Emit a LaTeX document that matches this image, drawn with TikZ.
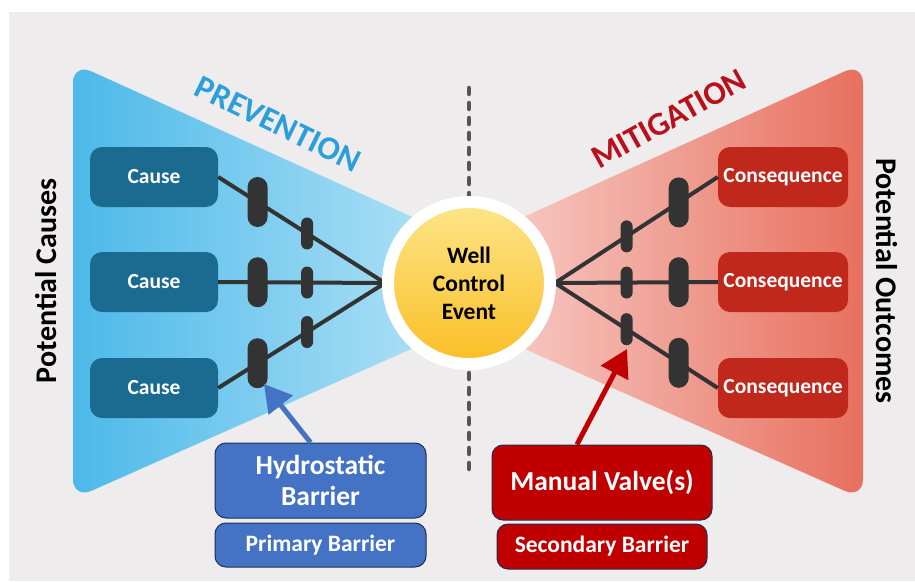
\documentclass[tikz,border=0pt]{standalone}
\usepackage{fontspec}
\setmainfont{Carlito}
\usetikzlibrary{arrows.meta,positioning}

\definecolor{bggray}{HTML}{EEECEC}
\definecolor{causeblue}{HTML}{1B6A90}
\definecolor{conred}{HTML}{C0281C}
\definecolor{prevblue}{HTML}{2A9FD9}
\definecolor{mitred}{HTML}{B8101C}
\definecolor{barblue}{HTML}{4472C4}
\definecolor{barred}{HTML}{C00000}
\definecolor{boxedge}{HTML}{1F2F4F}
\definecolor{darkline}{HTML}{333333}
\definecolor{dashgray}{HTML}{555555}
\definecolor{leftA}{HTML}{4CB9E9}
\definecolor{leftB}{HTML}{B8E4F7}
\definecolor{rightA}{HTML}{F8D3CF}
\definecolor{rightB}{HTML}{E8705E}
\definecolor{yellowtop}{HTML}{FDE58A}
\definecolor{yellowbot}{HTML}{F9BE25}

\begin{document}
\begin{tikzpicture}[x=1pt,y=-1pt,
  box/.style={rounded corners=12pt, minimum height=60pt, text=white,
    font=\bfseries\fontsize{21.5}{24}\selectfont},
  causebox/.style={box, fill=causeblue, minimum width=128pt},
  conbox/.style={box, fill=conred, minimum width=130pt, inner xsep=2pt},
  bigbar/.style={fill=darkline, rounded corners=10pt, minimum width=20pt,
    minimum height=50pt, inner sep=0pt},
  smallbar/.style={fill=darkline, rounded corners=6pt, minimum width=12pt,
    minimum height=32pt, inner sep=0pt},
  link/.style={draw=darkline, line width=4pt},
  barbox/.style={draw=boxedge, line width=1pt, rounded corners=11pt, text=white,
    align=center},
  pointer/.style={line width=5pt, -{Triangle[width=30pt,length=27pt]}}]
  % Sizes
  \def\ringradius{81}
  \def\ringwidth{12}
  %
  % Background
  \useasboundingbox (0,0) rectangle (915,581);
  \fill[bggray] (9,12) rectangle (915,581);
  %
  % Prevention and mitigation wedges
  \shade[left color=leftA, right color=leftB, rounded corners=20pt]
    (73,63) -- (472,244) -- (472,322) -- (73,499) -- cycle;
  \shade[left color=rightA, right color=rightB, rounded corners=20pt]
    (863,63) -- (464,244) -- (464,322) -- (863,499) -- cycle;
  \node[rotate=-26, text=prevblue, font=\bfseries\fontsize{33}{36}\selectfont]
    at (278,124) {PREVENTION};
  \node[rotate=29, text=mitred, font=\bfseries\fontsize{33}{36}\selectfont]
    at (669,119) {MITIGATION};
  \node[rotate=90, font=\bfseries\fontsize{30}{32}\selectfont] at (46,281)
    {Potential Causes};
  \node[rotate=-90, font=\bfseries\fontsize{30}{32}\selectfont] at (887,281)
    {Potential Outcomes};
  %
  % Causes and consequences
  \node (c1) [causebox] at (154,177) {Cause};
  \node (c2) [causebox] at (154,282) {Cause};
  \node (c3) [causebox] at (154,388) {Cause};
  \node (q1) [conbox] at (783,177) {Consequence};
  \node (q2) [conbox] at (783,282) {Consequence};
  \node (q3) [conbox] at (783,388) {Consequence};
  \coordinate (cl) at (385,283);
  \coordinate (cr) at (555,283);
  %
  % Paths with barriers
  \draw[link] (c1.east) -- node[bigbar,pos=.236]{} node[smallbar,pos=.533]{} (cl);
  \draw[link] (c2.east) -- node[bigbar,pos=.236]{} node[smallbar,pos=.533]{} (cl);
  \draw[link] (c3.east) -- node[bigbar,pos=.236]{} node[smallbar,pos=.533]{} (cl);
  \draw[link] (cr) -- node[smallbar,pos=.44]{} node[bigbar,pos=.76]{} (q1.west);
  \draw[link] (cr) -- node[smallbar,pos=.44]{} node[bigbar,pos=.76]{} (q2.west);
  \draw[link] (cr) -- node[smallbar,pos=.44]{} node[bigbar,pos=.76]{} (q3.west);
  %
  % Divider
  \coordinate (dtop) at (469,88);
  \coordinate (dbot) at (469,477);
  \draw[dashgray, line width=4.5pt, line cap=round, dash pattern=on 6pt off 9pt]
    (dtop) -- (469,283) -- (dbot);
  %
  % Event
  \node (wce) [circle, draw=white, line width=\ringwidth pt,
    minimum size=2*\ringradius pt, top color=yellowtop, bottom color=yellowbot,
    align=center, font=\bfseries\fontsize{23.5}{28}\selectfont]
    at (469,283) {Well\\Control\\Event};
  %
  % Barrier labels
  \node (hyd) [barbox, fill=barblue, minimum width=211pt, minimum height=75pt,
    font=\bfseries\fontsize{27.5}{31}\selectfont] at (320.5,480.5)
    {Hydrostatic\\Barrier};
  \node (prim) [barbox, fill=barblue, minimum width=211pt, minimum height=44pt,
    font=\bfseries\fontsize{23.5}{25}\selectfont, below=4pt of hyd]
    {Primary Barrier};
  \node (man) [barbox, fill=barred, minimum width=220pt, minimum height=75pt,
    font=\bfseries\fontsize{27.5}{31}\selectfont] at (602,482.5)
    {Manual Valve(s)};
  \node (sec) [barbox, fill=barred, minimum width=210pt, minimum height=45pt,
    font=\bfseries\fontsize{23.5}{25}\selectfont, below=3pt of man]
    {Secondary Barrier};
  %
  % Pointers
  \coordinate (hydtip) at (264,384);
  \coordinate (mantip) at (627,349);
  \draw[pointer, barblue] ([xshift=-10pt]hyd.north) -- (hydtip);
  \draw[pointer, barred] ([xshift=-25pt]man.north) -- (mantip);
  %
\end{tikzpicture}
\end{document}
